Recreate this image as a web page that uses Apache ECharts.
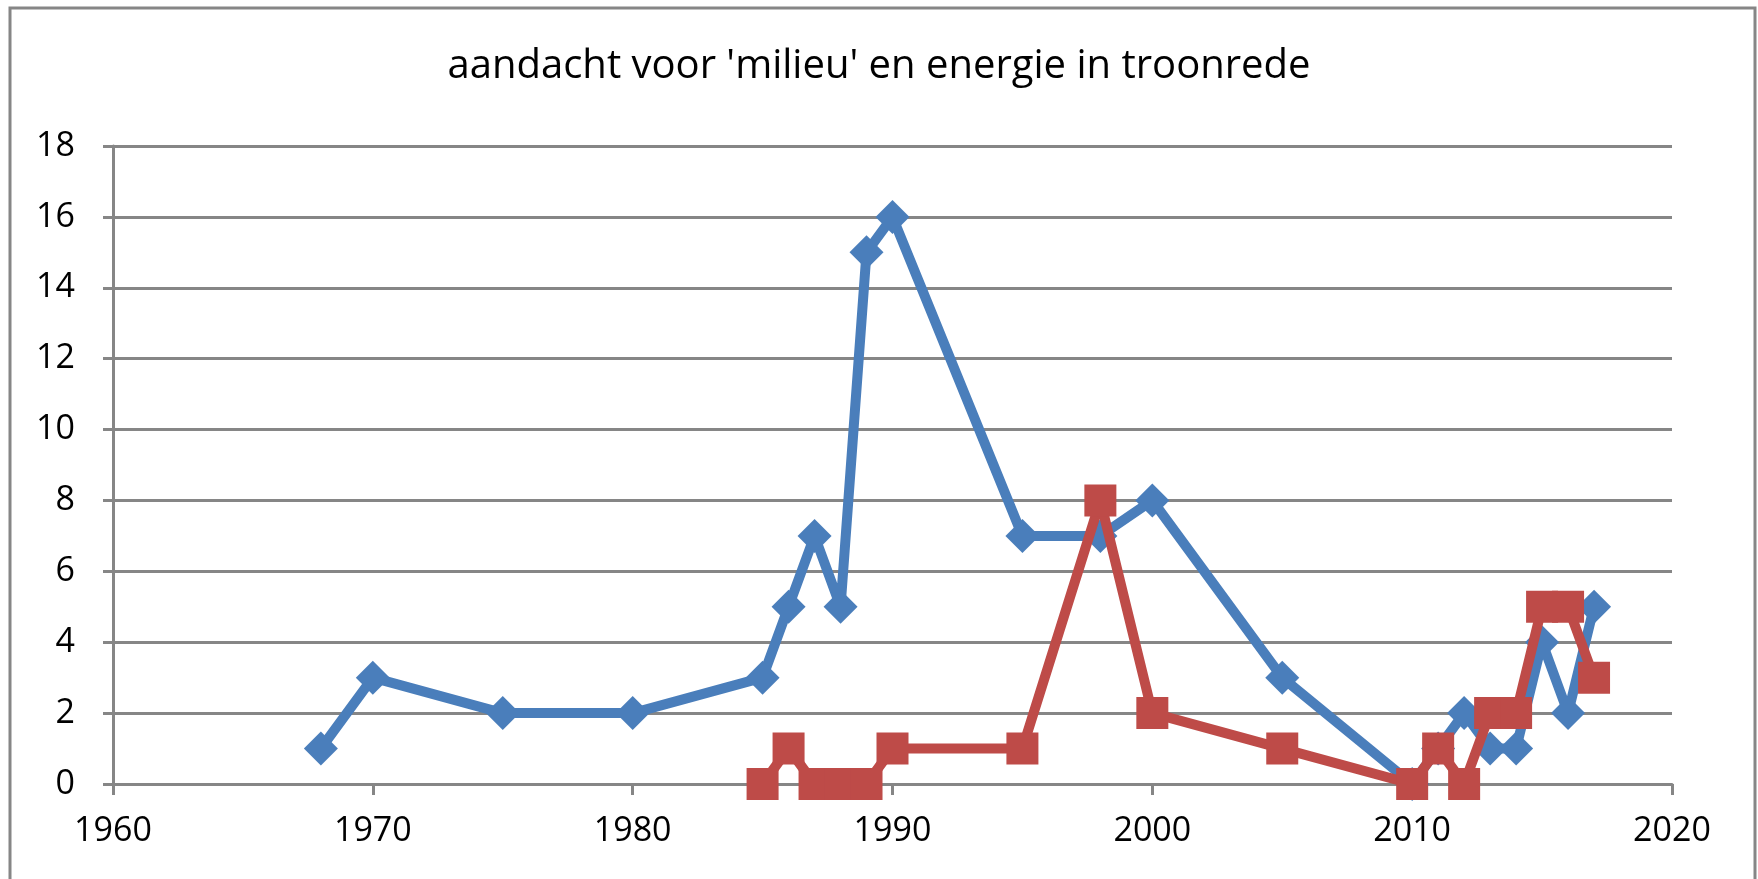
<!DOCTYPE html>
<html>
<head>
<meta charset="utf-8">
<script src="https://cdn.jsdelivr.net/npm/echarts@6/dist/echarts.min.js"></script>
<style>
  html, body { margin: 0; padding: 0; background: #fff; }
  #chart { width: 1758px; height: 879px; }
</style>
</head>
<body>
<div id="chart"></div>
<script>
const titleText = "aandacht voor 'milieu' en energie in troonrede"

// milieu (blauw)
const milieuYears = [1968, 1970, 1975, 1980, 1985, 1986, 1987, 1988, 1989, 1990, 1995, 1998, 2000, 2005, 2010, 2011, 2012, 2013, 2014, 2015, 2016, 2017]
const milieuValues = [1, 3, 2, 2, 3, 5, 7, 5, 15, 16, 7, 7, 8, 3, 0, 1, 2, 1, 1, 4, 2, 5]

// energie (rood)
const energieYears = [1985, 1986, 1987, 1988, 1989, 1990, 1995, 1998, 2000, 2005, 2010, 2011, 2012, 2013, 2014, 2015, 2016, 2017]
const energieValues = [0, 1, 0, 0, 0, 1, 1, 8, 2, 1, 0, 1, 0, 2, 2, 5, 5, 3]

const pairs = (xs, ys) => xs.map((x, i) => [x, ys[i]])

const chart = echarts.init(document.getElementById('chart'))
const font = 'Open Sans'

chart.setOption({
  animation: false,
  backgroundColor: '#fff',
  title: {
    text: titleText,
    left: 'center',
    top: 42,
    textStyle: {
      color: '#000',
      fontFamily: font,
      fontWeight: 'normal',
      fontSize: 40
    }
  },
  graphic: [
    {
      type: 'rect',
      shape: { x: 10, y: 8, width: 1745, height: 900 },
      style: { fill: 'none', stroke: '#868686', lineWidth: 3 },
      silent: true
    }
  ],
  grid: {
    left: 113,
    right: 86,
    top: 146,
    bottom: 95,
    containLabel: false
  },
  xAxis: {
    type: 'value',
    min: 1960,
    max: 2020,
    interval: 10,
    axisLine: { show: true, onZero: false, lineStyle: { color: '#868686', width: 3 } },
    axisTick: { show: true, length: 11, lineStyle: { color: '#868686', width: 3 } },
    splitLine: { show: false },
    axisLabel: {
      color: '#000',
      fontFamily: font,
      fontSize: 34,
      margin: 30,
      formatter: v => String(v)
    }
  },
  yAxis: {
    type: 'value',
    min: 0,
    max: 18,
    interval: 2,
    axisLine: { show: true, lineStyle: { color: '#868686', width: 3 } },
    axisTick: { show: true, length: 10, lineStyle: { color: '#868686', width: 3 } },
    splitLine: { show: true, lineStyle: { color: '#868686', width: 3 } },
    axisLabel: { color: '#000', fontFamily: font, fontSize: 34, margin: 38 }
  },
  series: [
    {
      name: 'milieu',
      type: 'line',
      data: pairs(milieuYears, milieuValues),
      symbol: 'diamond',
      symbolSize: 34,
      showAllSymbol: true,
      lineStyle: { color: '#4a7ebb', width: 10 },
      itemStyle: { color: '#4a7ebb' },
      z: 2
    },
    {
      name: 'energie',
      type: 'line',
      data: pairs(energieYears, energieValues),
      symbol: 'rect',
      symbolSize: 32,
      showAllSymbol: true,
      lineStyle: { color: '#be4b48', width: 10 },
      itemStyle: { color: '#be4b48' },
      z: 3
    }
  ]
})
</script>
</body>
</html>
